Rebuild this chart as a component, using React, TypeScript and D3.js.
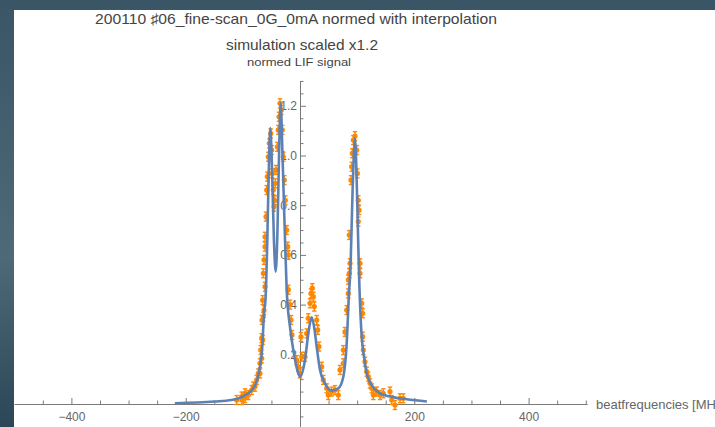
import React, { useEffect, useRef } from "react";
import * as d3 from "d3";

// simulated curve (MHz, normed signal)
const simFreq = [
  -219, -150, -120, -100, -90, -80, -75, -70, -66, -63, -60.4, -57.2, -55, -52, -49,
  -45.5, -42.5, -39.4, -36.7, -33.8, -30.6, -26.2, -23.3, -17.5, -11.7, -3, 0, 8.7,
  14.9, 20.5, 25.4, 29.2, 35, 43.7, 55.5, 67, 75.8, 81.7, 85.7, 88.4, 91.9, 96.2,
  100.3, 102.4, 104, 108, 112, 116.7, 125.5, 140, 157.5, 186.7, 222,
];
const simSignal = [
  0.003, 0.01, 0.016, 0.03, 0.044, 0.07, 0.097, 0.15, 0.23, 0.366, 0.42, 0.66, 0.9, 1.11, 0.95,
  0.65, 0.532, 0.7, 1.0, 1.21, 1.0, 0.66, 0.46, 0.31, 0.217, 0.123, 0.11, 0.177,
  0.29, 0.349, 0.3, 0.23, 0.137, 0.083, 0.054, 0.063, 0.11, 0.244, 0.445, 0.55, 0.85, 1.069,
  0.8, 0.6, 0.47, 0.27, 0.19, 0.123, 0.076, 0.043, 0.03, 0.019, 0.01,
];

// measured points with error bars
const dataFreq = [
  -110.8, -102, -101.5, -96.2, -96.2, -90.5, -84.5, -81.7, -78.7, -75.8, -73, -70, -70,
  -68.7, -67, -67, -66.5, -65.3, -65.3, -64.2, -64.2, -63, -63, -61.2, -61.2, -61.2,
  -59.5, -58.3, -57.2, -55.5, -53.7, -51.3, -49.5, -48.5, -46.7, -45.5, -44.3, -43.2,
  -42, -39.7, -38, -36.7, -35, -32.7, -31, -29.2, -27.5, -25.7, -23.3, -21.5, -20.5,
  -20.5, -17.5, -15.7, -14, -5.8, -3, 0, 1.7, 3, 8.7, 11.7, 14.5, 17.5, 19.2, 21.5,
  23.3, 25, 29.2, 31, 33.2, 38, 40.8, 46.7, 49.5, 55.5, 61.2, 67, 70, 75.8, 75.8, 78.7,
  81.7, 84.5, 84.5, 86.2, 86.2, 87.5, 89.2, 90.5, 91.5, 93.3, 96.2, 99.2, 100.3, 102,
  102, 103.2, 105, 105, 108, 109.7, 109.7, 110.8, 113.7, 116.7, 119.5, 122.5, 125.5,
  128.3, 134.2, 140, 145.8, 157.5, 160.5, 166.2, 175, 180.7,
];
const dataSignal = [
  0.016, 0.03, 0.016, 0.043, 0.024, 0.036, 0.056, 0.07, 0.07, 0.097, 0.123, 0.123, 0.164,
  0.217, 0.184, 0.265, 0.338, 0.258, 0.418, 0.351, 0.526, 0.378, 0.58, 0.472, 0.633, 0.673,
  0.754, 0.861, 0.915, 0.995, 1.049, 1.089, 1.022, 0.928, 0.861, 0.794, 0.82, 0.888,
  0.942, 1.035, 1.103, 1.156, 1.21, 1.183, 1.103, 0.995, 0.901, 0.82, 0.7, 0.633, 0.6,
  0.46, 0.4, 0.338, 0.278, 0.177, 0.15, 0.123, 0.27, 0.19, 0.19, 0.284, 0.345, 0.405, 0.445, 0.466,
  0.432, 0.392, 0.338, 0.298, 0.231, 0.15, 0.097, 0.063, 0.036, 0.05, 0.056, 0.036, 0.137, 0.217, 0.164, 0.29,
  0.378, 0.445, 0.5, 0.526, 0.68, 0.566, 0.901, 0.955, 1.009, 1.062, 1.078, 1.022, 0.928, 0.82,
  0.734, 0.78, 0.566, 0.526, 0.405, 0.365, 0.271, 0.217, 0.17, 0.13, 0.11, 0.083, 0.063,
  0.036, 0.05, 0.036, 0.043, 0.05, 0.016, -0.004, 0.023, 0.023,
];
const dataErr = dataFreq.map(() => 0.018);

const xMajor = [-400, -200, 200, 400];
const yMajor = [0.2, 0.4, 0.6, 0.8, 1.0, 1.2];

const titleLines = [
  "200110 \u266F06_fine-scan_0G_0mA normed with interpolation",
  "simulation scaled x1.2",
];
const yLabel = "normed LIF signal";
const xLabel = "beatfrequencies [MHz]";

const W = 715;
const H = 427;

export default function App() {
  const ref = useRef<SVGSVGElement>(null);

  useEffect(() => {
    const svg = d3.select(ref.current);
    svg.selectAll("*").remove();

    const x = d3.scaleLinear().domain([-500, 500]).range([14.25, 585.75]);
    const y = d3.scaleLinear().domain([0, 1.2]).range([404, 105.8]);
    const yAx = y.copy().domain([-0.0926, 1.3]).range([y(-0.0926), y(1.3)]);
    const xAx = x.copy().domain([-500, 502]).range([x(-500), x(502)]);

    // background photo edge + white plot sheet
    const grad = svg.append("defs").append("linearGradient")
      .attr("id", "bg").attr("x1", 0).attr("y1", 0).attr("x2", 0).attr("y2", 1);
    grad.append("stop").attr("offset", "0%").attr("stop-color", "#3a5566");
    grad.append("stop").attr("offset", "60%").attr("stop-color", "#4e6977");
    grad.append("stop").attr("offset", "100%").attr("stop-color", "#2b4656");
    svg.append("rect").attr("width", W).attr("height", H).attr("fill", "url(#bg)");
    svg.append("rect").attr("x", 14).attr("y", 10).attr("width", W - 14).attr("height", H - 10).attr("fill", "#fff");

    const font = "'Liberation Sans', Arial, sans-serif";

    // titles
    svg.append("text").attr("x", 296).attr("y", 23.5).attr("text-anchor", "middle")
      .attr("textLength", 402).attr("lengthAdjust", "spacingAndGlyphs")
      .style("font-family", font).style("font-size", "15px").style("fill", "#444")
      .text(titleLines[0]);
    svg.append("text").attr("x", 302).attr("y", 49.5).attr("text-anchor", "middle")
      .attr("textLength", 152).attr("lengthAdjust", "spacingAndGlyphs")
      .style("font-family", font).style("font-size", "15px").style("fill", "#444")
      .text(titleLines[1]);
    svg.append("text").attr("x", 299).attr("y", 66).attr("text-anchor", "middle")
      .attr("textLength", 104).attr("lengthAdjust", "spacingAndGlyphs")
      .style("font-family", font).style("font-size", "11.5px").style("fill", "#444")
      .text(yLabel);

    const axisColor = "#7a7a7a";
    const labelColor = "#666";

    // x axis
    const gx = svg.append("g").attr("transform", `translate(0,${y(0)})`);
    gx.call(
      d3.axisBottom(xAx).tickValues(xMajor).tickSize(-6).tickSizeOuter(0).tickPadding(8)
        .tickFormat((d) => d3.format("d")(d as number).replace("-", "\u2212"))
    );
    const xMinor = d3.range(-450, 501, 50).filter((v) => v % 200 !== 0);
    gx.append("g").call(
      d3.axisBottom(xAx).tickValues(xMinor).tickSize(-3.5).tickSizeOuter(0).tickFormat(() => "")
    );
    gx.selectAll("path,line").attr("stroke", axisColor);
    gx.selectAll("text").style("font-family", font).style("font-size", "12px").style("fill", labelColor);

    svg.append("text").attr("x", 596).attr("y", y(0) + 4.5)
      .style("font-family", font).style("font-size", "13px").style("fill", labelColor)
      .text(xLabel);

    // y axis
    const gy = svg.append("g").attr("transform", `translate(${x(0)},0)`);
    gy.call(
      d3.axisLeft(yAx).tickValues(yMajor).tickSize(-6).tickSizeOuter(0).tickPadding(3)
        .tickFormat(d3.format(".1f"))
    );
    const yMinor = d3.range(-1, 27).map((i) => i * 0.05)
      .filter((v) => Math.abs(v) > 1e-6 && Math.abs((v * 5) - Math.round(v * 5)) > 1e-6);
    gy.append("g").call(
      d3.axisLeft(yAx).tickValues(yMinor).tickSize(-3.5).tickSizeOuter(0).tickFormat(() => "")
    );
    gy.selectAll("path,line").attr("stroke", axisColor);
    gy.selectAll("text").style("font-family", font).style("font-size", "12px").style("fill", labelColor);

    // measured points with error bars
    const orange = "#ff8800";
    const pts = dataFreq.map((f, i) => ({ f, s: dataSignal[i], e: dataErr[i] }));
    const gp = svg.append("g");
    const pt = gp.selectAll("g").data(pts).join("g");
    pt.append("line")
      .attr("x1", (d) => x(d.f)).attr("x2", (d) => x(d.f))
      .attr("y1", (d) => y(d.s - d.e)).attr("y2", (d) => y(d.s + d.e))
      .attr("stroke", orange).attr("stroke-width", 1.4);
    pt.append("line")
      .attr("x1", (d) => x(d.f) - 2.2).attr("x2", (d) => x(d.f) + 2.2)
      .attr("y1", (d) => y(d.s - d.e)).attr("y2", (d) => y(d.s - d.e))
      .attr("stroke", orange).attr("stroke-width", 1.4);
    pt.append("line")
      .attr("x1", (d) => x(d.f) - 2.2).attr("x2", (d) => x(d.f) + 2.2)
      .attr("y1", (d) => y(d.s + d.e)).attr("y2", (d) => y(d.s + d.e))
      .attr("stroke", orange).attr("stroke-width", 1.4);
    pt.append("circle")
      .attr("cx", (d) => x(d.f)).attr("cy", (d) => y(d.s)).attr("r", 2.6)
      .attr("fill", orange);

    // simulation curve
    const line = d3.line<number>()
      .x((d) => x(d))
      .y((_, i) => y(simSignal[i]))
      .curve(d3.curveMonotoneX);
    svg.append("path")
      .attr("d", line(simFreq))
      .attr("fill", "none")
      .attr("stroke", "#5e81b5")
      .attr("stroke-width", 2.6)
      .attr("stroke-linejoin", "round");
  }, []);

  return (
    <svg
      ref={ref}
      width={W}
      height={H}
      style={{ position: "absolute", left: 0, top: 0, display: "block" }}
    />
  );
}
